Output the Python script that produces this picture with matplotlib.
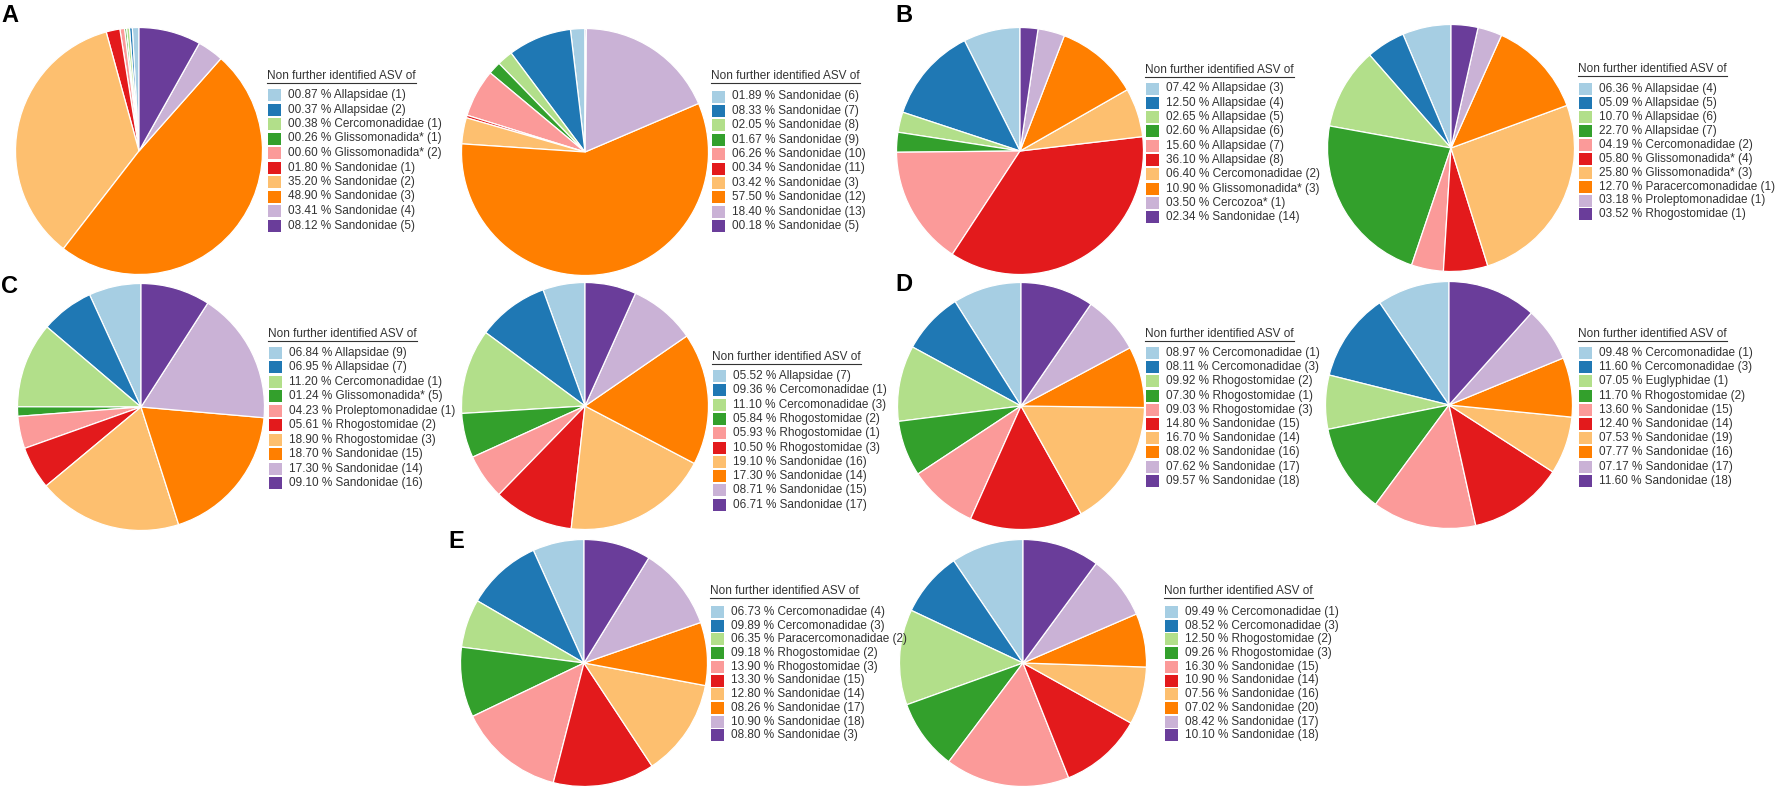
import matplotlib
matplotlib.use("Agg")
import matplotlib.pyplot as plt
from matplotlib.patches import Rectangle
from matplotlib.lines import Line2D

plt.rcParams['font.family'] = ['Liberation Sans', 'DejaVu Sans']

# ---------------- data ----------------
COLORS = ["#a6cee3", "#1f78b4", "#b2df8a", "#33a02c", "#fb9a99",
          "#e31a1c", "#fdbf6f", "#ff7f00", "#cab2d6", "#6a3d9a"]

HEADER = "Non further identified ASV of"

A1_labels = ["Allapsidae (1)", "Allapsidae (2)", "Cercomonadidae (1)", "Glissomonadida* (1)",
             "Glissomonadida* (2)", "Sandonidae (1)", "Sandonidae (2)", "Sandonidae (3)",
             "Sandonidae (4)", "Sandonidae (5)"]
A1_values = [0.87, 0.37, 0.38, 0.26, 0.60, 1.80, 35.20, 48.90, 3.41, 8.12]

A2_labels = ["Sandonidae (6)", "Sandonidae (7)", "Sandonidae (8)", "Sandonidae (9)",
             "Sandonidae (10)", "Sandonidae (11)", "Sandonidae (3)", "Sandonidae (12)",
             "Sandonidae (13)", "Sandonidae (5)"]
A2_values = [1.89, 8.33, 2.05, 1.67, 6.26, 0.34, 3.42, 57.50, 18.40, 0.18]

B1_labels = ["Allapsidae (3)", "Allapsidae (4)", "Allapsidae (5)", "Allapsidae (6)",
             "Allapsidae (7)", "Allapsidae (8)", "Cercomonadidae (2)", "Glissomonadida* (3)",
             "Cercozoa* (1)", "Sandonidae (14)"]
B1_values = [7.42, 12.50, 2.65, 2.60, 15.60, 36.10, 6.40, 10.90, 3.50, 2.34]

B2_labels = ["Allapsidae (4)", "Allapsidae (5)", "Allapsidae (6)", "Allapsidae (7)",
             "Cercomonadidae (2)", "Glissomonadida* (4)", "Glissomonadida* (3)",
             "Paracercomonadidae (1)", "Proleptomonadidae (1)", "Rhogostomidae (1)"]
B2_values = [6.36, 5.09, 10.70, 22.70, 4.19, 5.80, 25.80, 12.70, 3.18, 3.52]

C1_labels = ["Allapsidae (9)", "Allapsidae (7)", "Cercomonadidae (1)", "Glissomonadida* (5)",
             "Proleptomonadidae (1)", "Rhogostomidae (2)", "Rhogostomidae (3)",
             "Sandonidae (15)", "Sandonidae (14)", "Sandonidae (16)"]
C1_values = [6.84, 6.95, 11.20, 1.24, 4.23, 5.61, 18.90, 18.70, 17.30, 9.10]

C2_labels = ["Allapsidae (7)", "Cercomonadidae (1)", "Cercomonadidae (3)", "Rhogostomidae (2)",
             "Rhogostomidae (1)", "Rhogostomidae (3)", "Sandonidae (16)", "Sandonidae (14)",
             "Sandonidae (15)", "Sandonidae (17)"]
C2_values = [5.52, 9.36, 11.10, 5.84, 5.93, 10.50, 19.10, 17.30, 8.71, 6.71]

D1_labels = ["Cercomonadidae (1)", "Cercomonadidae (3)", "Rhogostomidae (2)", "Rhogostomidae (1)",
             "Rhogostomidae (3)", "Sandonidae (15)", "Sandonidae (14)", "Sandonidae (16)",
             "Sandonidae (17)", "Sandonidae (18)"]
D1_values = [8.97, 8.11, 9.92, 7.30, 9.03, 14.80, 16.70, 8.02, 7.62, 9.57]

D2_labels = ["Cercomonadidae (1)", "Cercomonadidae (3)", "Euglyphidae (1)", "Rhogostomidae (2)",
             "Sandonidae (15)", "Sandonidae (14)", "Sandonidae (19)", "Sandonidae (16)",
             "Sandonidae (17)", "Sandonidae (18)"]
D2_values = [9.48, 11.60, 7.05, 11.70, 13.60, 12.40, 7.53, 7.77, 7.17, 11.60]

E1_labels = ["Cercomonadidae (4)", "Cercomonadidae (3)", "Paracercomonadidae (2)",
             "Rhogostomidae (2)", "Rhogostomidae (3)", "Sandonidae (15)", "Sandonidae (14)",
             "Sandonidae (17)", "Sandonidae (18)", "Sandonidae (3)"]
E1_values = [6.73, 9.89, 6.35, 9.18, 13.90, 13.30, 12.80, 8.26, 10.90, 8.80]

E2_labels = ["Cercomonadidae (1)", "Cercomonadidae (3)", "Rhogostomidae (2)", "Rhogostomidae (3)",
             "Sandonidae (15)", "Sandonidae (14)", "Sandonidae (16)", "Sandonidae (20)",
             "Sandonidae (17)", "Sandonidae (18)"]
E2_values = [9.49, 8.52, 12.50, 9.26, 16.30, 10.90, 7.56, 7.02, 8.42, 10.10]

PANEL_LETTERS = ["A", "B", "C", "D", "E"]

# ---------------- layout (pixels) ----------------
W, H = 1776, 795
fig = plt.figure(figsize=(W / 100, H / 100), dpi=100)
R = 123.5
TXT = "#333333"
FS = 8.5


def fx(px):
    return px / W


def fy(py):
    return 1 - py / H


def add_pie(cx, cy, vals):
    ax = fig.add_axes([fx(cx - R), fy(cy + R), 2 * R / W, 2 * R / H])
    ax.pie(vals, colors=COLORS, startangle=90, counterclock=True, radius=1,
           wedgeprops=dict(edgecolor="white", linewidth=0.9))
    ax.set_xlim(-1, 1)
    ax.set_ylim(-1, 1)
    ax.set_aspect("equal")
    ax.axis("off")


renderer = fig.canvas.get_renderer()


def add_legend(hx, hy, first_y, step, vals, labels):
    t = fig.text(fx(hx), fy(hy), HEADER, fontsize=FS, color=TXT, ha="left", va="center")
    bb = t.get_window_extent(renderer=renderer)
    uy = hy + 6.5
    fig.add_artist(Line2D([fx(hx), fx(hx + bb.width)], [fy(uy), fy(uy)],
                          color=TXT, linewidth=0.8, transform=fig.transFigure))
    for i, (v, lab) in enumerate(zip(vals, labels)):
        y = first_y + i * step
        fig.add_artist(Rectangle((fx(hx + 1), fy(y + 6)), 13 / W, 12 / H,
                                 facecolor=COLORS[i], edgecolor="none",
                                 transform=fig.transFigure))
        fig.text(fx(hx + 21), fy(y), f"{v:05.2f} % {lab}", fontsize=FS, color=TXT,
                 ha="left", va="center")


pies = [
    (139, 151, A1_values, A1_labels, 267, 76, 95, 14.5),
    (585, 152, A2_values, A2_labels, 711, 76, 96.5, 14.4),
    (1020, 151, B1_values, B1_labels, 1145, 70, 88.5, 14.3),
    (1451, 148, B2_values, B2_labels, 1578, 69, 89.3, 13.9),
    (141, 407, C1_values, C1_labels, 268, 334, 352.7, 14.5),
    (585, 406, C2_values, C2_labels, 712, 357, 376, 14.3),
    (1021, 406, D1_values, D1_labels, 1145, 334, 353, 14.2),
    (1449, 405, D2_values, D2_labels, 1578, 334, 353, 14.2),
    (584, 663, E1_values, E1_labels, 710, 591, 612, 13.7),
    (1023, 663, E2_values, E2_labels, 1164, 591, 612, 13.7),
]

for cx, cy, vals, labs, hx, hy, fy0, st in pies:
    add_pie(cx, cy, vals)
    add_legend(hx, hy, fy0, st, vals, labs)

letter_pos = [(1, 15), (895, 15), (1, 287), (895, 285), (448, 542)]
for letter, (lx, ly) in zip(PANEL_LETTERS, letter_pos):
    fig.text(fx(lx), fy(ly), letter, fontsize=17, fontweight="bold", color="black",
             ha="left", va="center")

fig.savefig("out.png", dpi=100, facecolor="white")
